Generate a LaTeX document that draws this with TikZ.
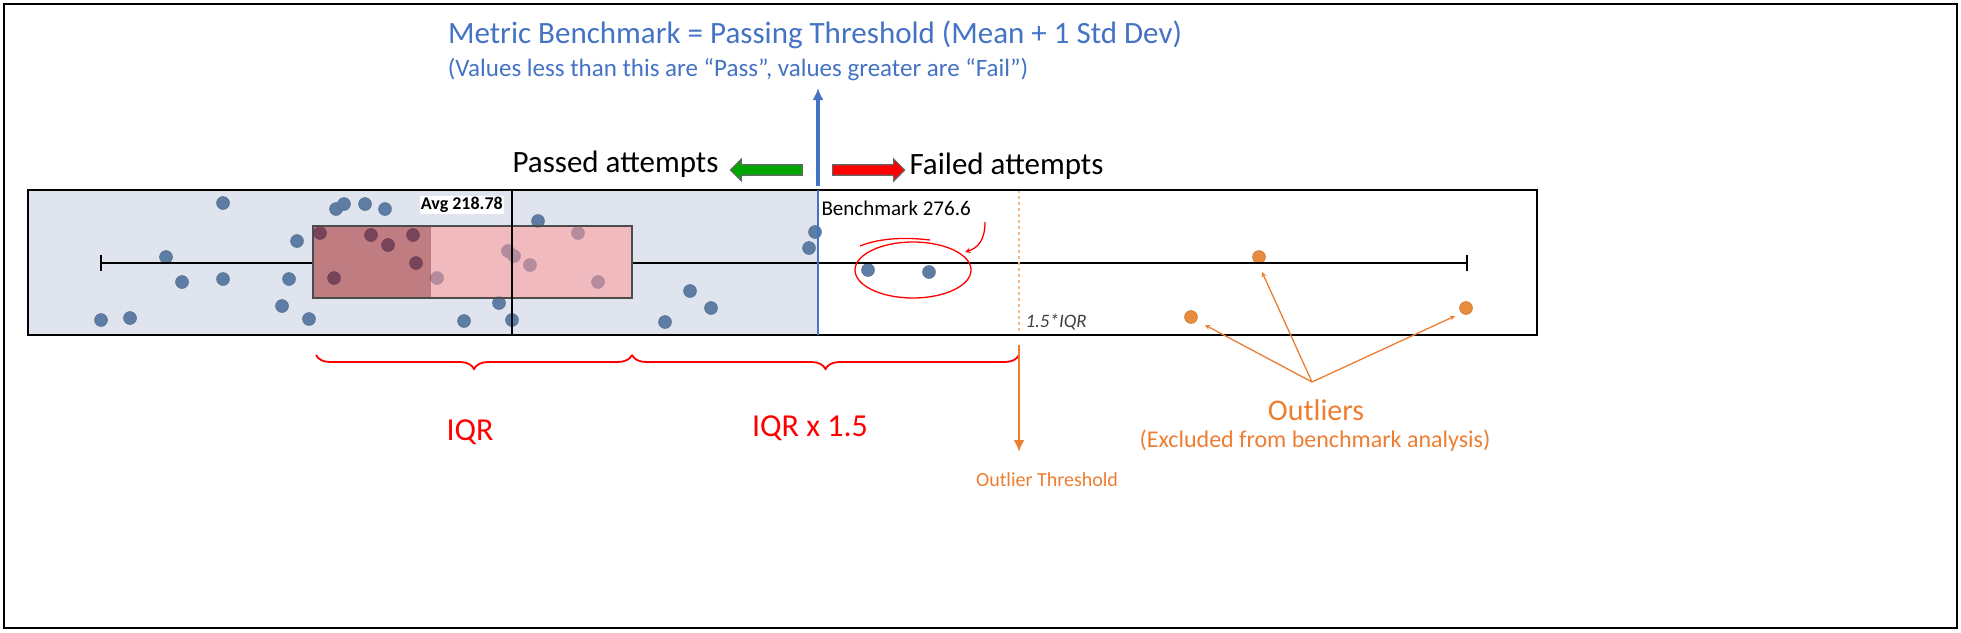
\documentclass[tikz,border=0pt]{standalone}
\usepackage{fontspec}
\setmainfont{Carlito}
\usetikzlibrary{decorations.pathreplacing,shapes.arrows,arrows.meta}
\definecolor{bench}{RGB}{68,114,196}
\definecolor{dotblue}{RGB}{93,125,165}
\definecolor{dotorange}{RGB}{230,140,60}
\definecolor{outl}{RGB}{237,125,49}
\definecolor{boxbg}{RGB}{224,228,238}
\tikzset{
  dot/.style={fill=dotblue, draw=dotblue!80!black, circle, inner sep=0pt, minimum size=13pt},
  odot/.style={fill=dotorange, draw=dotorange!80!black, circle, inner sep=0pt, minimum size=13pt},
  brace/.style={decorate, decoration={brace, mirror, amplitude=14pt}, red, line width=1.8pt},
  redlabel/.style={red, font=\fontsize{32}{34}\selectfont},
}
\begin{document}
\begin{tikzpicture}[x=1pt, y=-1pt]
        \useasboundingbox (0,0) rectangle (1961,632);
        \draw[line width=2.5pt](4,4) rectangle (1957,628);
        \fill[boxbg](28,190) rectangle (818,335);
        % data points
        \foreach \px/\py in {101/320,130/318,166/257,182/282,223/203,223/279,289/279,282/306,297/241,309/319,
          336/209,344/204,365/204,385/209,320/233,371/235,388/245,413/235,416/263,334/278,437/278,464/321,
          499/303,512/320,508/251,514/256,530/265,538/221,578/233,598/282,665/322,690/291,711/308,809/248,
          815/232,868/270,929/272}
          \node[dot] at (\px,\py) {};
        \foreach \px/\py in {1259/257,1191/317,1466/308}
          \node[odot] at (\px,\py) {};
        % box plot
        \draw[line width=1.8pt](101,263) -- (313,263);
        \draw[line width=1.8pt](632,263) -- (1467,263);
        \draw[line width=1.8pt](101,255) -- (101,271);
        \draw[line width=1.8pt](1467,255) -- (1467,271);
        \fill[red!60!black, opacity=0.45](313,226) rectangle (431,298);
        \fill[red!40, opacity=0.55](431,226) rectangle (632,298);
        \draw[black!70, line width=1.2pt](313,226) rectangle (632,298);
        \draw[line width=2.5pt](512,190) -- (512,335);
        \node[fill=white, inner sep=1pt, anchor=east, font=\fontsize{18}{19}\selectfont\bfseries] (avg) at (504,205) {Avg 218.78};
        \draw[dotorange!60, dashed, line width=1.8pt](1019,190) -- (1019,335);
        \node[anchor=west, gray!50!black, font=\fontsize{19}{20}\selectfont\itshape] (iqr15) at (1022,322) {1.5*IQR};
        \draw[line width=2.2pt](28,190) rectangle (1537,335);
        % benchmark
        \draw[bench, line width=4pt, -{Latex[length=12pt,width=11pt]}](818,186) -- (818,88);
        \draw[bench, line width=1.2pt](818,190) -- (818,335);
        \node[anchor=west, font=\fontsize{21}{22}\selectfont] (bmk) at (818,208) {Benchmark 276.6};
        \node[bench, font=\fontsize{31}{33}\selectfont] (title) at (815,35) {Metric Benchmark = Passing Threshold (Mean + 1 Std Dev)};
        \node[bench, font=\fontsize{25}{27}\selectfont] (sub) at (738,70) {(Values less than this are “Pass”, values greater are “Fail”)};
        \node[single arrow, shape border rotate=180, fill=green!65!black, draw=black!60, line width=1.2pt, minimum height=72pt, minimum width=22pt, single arrow head extend=5pt, inner sep=4pt] (garr) at (769,170) {};
        \node[single arrow, fill=red, draw=black!60, line width=1.2pt, minimum height=72pt, minimum width=22pt, single arrow head extend=5pt, inner sep=4pt] (rarr) at (866,170) {};
        \node[anchor=east, font=\fontsize{31}{33}\selectfont] (pass) at (722,164) {Passed attempts};
        \node[anchor=west, font=\fontsize{31}{33}\selectfont] (fail) at (906,166) {Failed attempts};
        \draw[red, line width=1.3pt](913,270) ellipse (58 and 28);
        \draw[red, line width=1.3pt](860,246) .. controls (880,238) and (905,237) .. (930,240);
        \draw[red, line width=1.3pt, -stealth](985,222) .. controls (985,240) and (978,248) .. (965,252);
        % braces and labels
        \draw[brace](316,355) -- (632,355);
        \draw[brace](632,355) -- (1019,355);
        \node[redlabel] (iqr) at (470,432) {IQR};
        \node[redlabel] (iqrx) at (810,428) {IQR x 1.5};
        \draw[outl, -{Latex[length=12pt,width=11pt]}, line width=2.5pt](1019,345) -- (1019,452);
        \node[outl, font=\fontsize{20}{22}\selectfont] (othr) at (1047,480) {Outlier Threshold};
        \node[outl, font=\fontsize{30}{32}\selectfont] (outliers) at (1316,410) {Outliers};
        \node[outl, font=\fontsize{24}{26}\selectfont] (excl) at (1315,441) {(Excluded from benchmark analysis)};
        \coordinate (fan) at (1312,382);
        \foreach \tx/\ty in {1205/325,1262/272,1455/316}
          \draw[outl, line width=1.3pt, -stealth](fan) -- (\tx,\ty);
    \end{tikzpicture}
\end{document}
